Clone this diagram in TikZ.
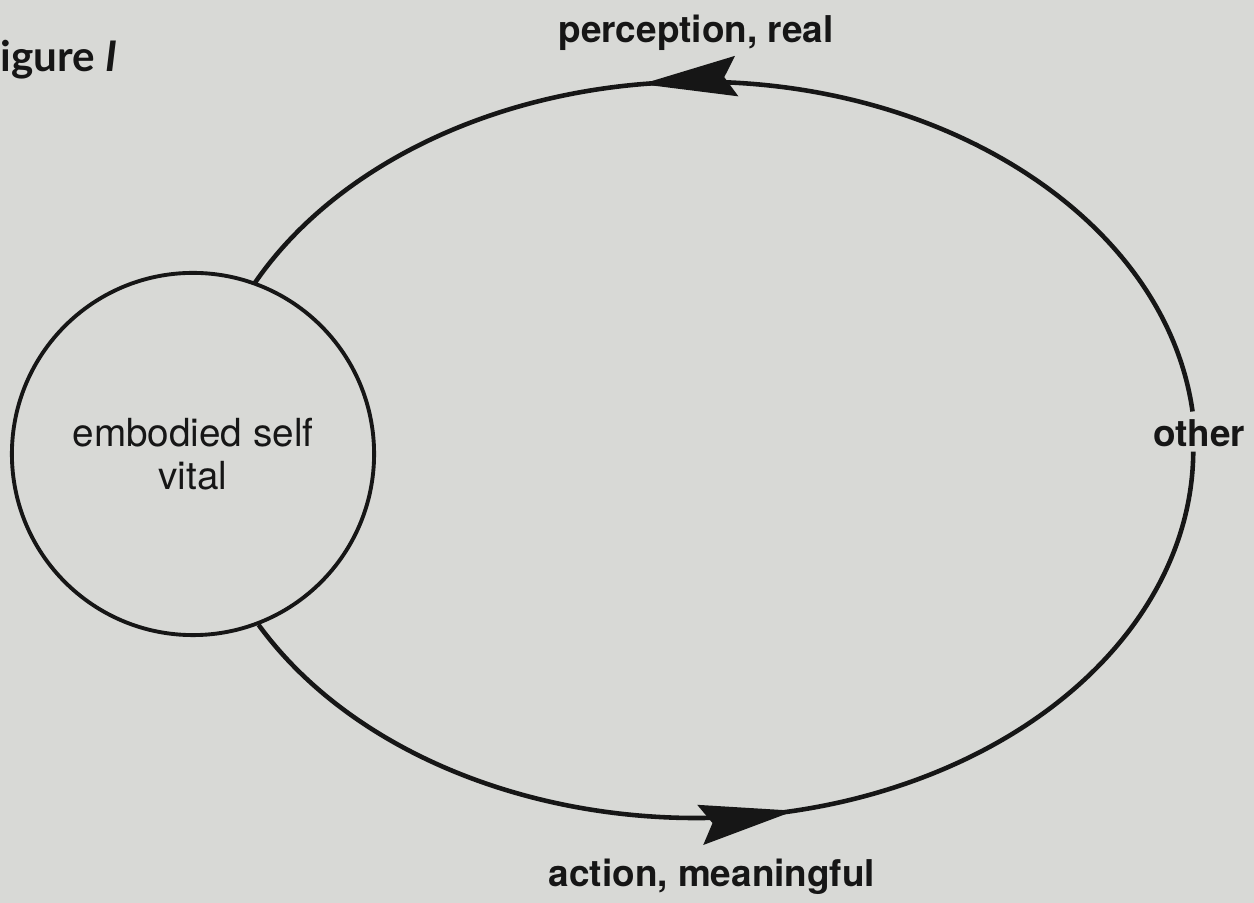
\documentclass[tikz,border=0pt]{standalone}
\usepackage{fontspec}
\setmainfont{TeX Gyre Heros}
\newfontfamily\figfont{Lato}
\usepackage{tikz}
\usetikzlibrary{arrows.meta, decorations.markings, calc}
\definecolor{paper}{RGB}{216,217,214}
\definecolor{ink}{RGB}{22,22,22}
\tikzstyle{selfnode} = [circle, draw=ink, line width=1.1pt, fill=paper, minimum size=3.62cm, align=center, text=ink, font=\fontsize{11}{12.2}\selectfont]
\tikzstyle{tag} = [inner sep=0pt, text=ink, font=\fontsize{10.5}{12}\selectfont\bfseries]
\tikzstyle{figlabel} = [inner sep=0pt, text=ink, font=\fontsize{12}{14}\selectfont\figfont\bfseries]
\tikzstyle{cycleline} = [ink, line width=1.3pt]
\tikzset{midarrow/.style={postaction={decorate}, decoration={markings, mark=at position #1 with {\arrow{Stealth[length=9.5mm, width=4mm, inset=1.2mm]}}}}}

\begin{document}
\begin{tikzpicture}[x=0.01cm, y=0.01cm]
    \fill[paper] (0,0) rectangle (1254,903);
    \useasboundingbox (0,0) rectangle (1254,903);
    \coordinate (hub) at (698,453);
    \coordinate (otop) at ($(hub)+(6:4.97cm and 3.68cm)$);
    \node[selfnode] (self) at (193,449) {embodied self\\vital};
    \node[tag, anchor=base] (other) at (1199,456) {other};
    \node[tag, anchor=base] (perc) at (696,860) {perception, real};
    \node[tag, anchor=base] (act) at (712,16) {action, meaningful};
    \node[figlabel, anchor=base west] (fig) at (0,831) {igure \textit{I}};

    % the loop between self and other
    \draw[cycleline, midarrow=0.61] (otop) arc[start angle=6, end angle=153, x radius=4.97cm, y radius=3.68cm];
    \draw[cycleline, midarrow=0.505] (self.291) arc[start angle=208.4, end angle=359.7, x radius=4.97cm, y radius=3.68cm];
\end{tikzpicture}
\end{document}
